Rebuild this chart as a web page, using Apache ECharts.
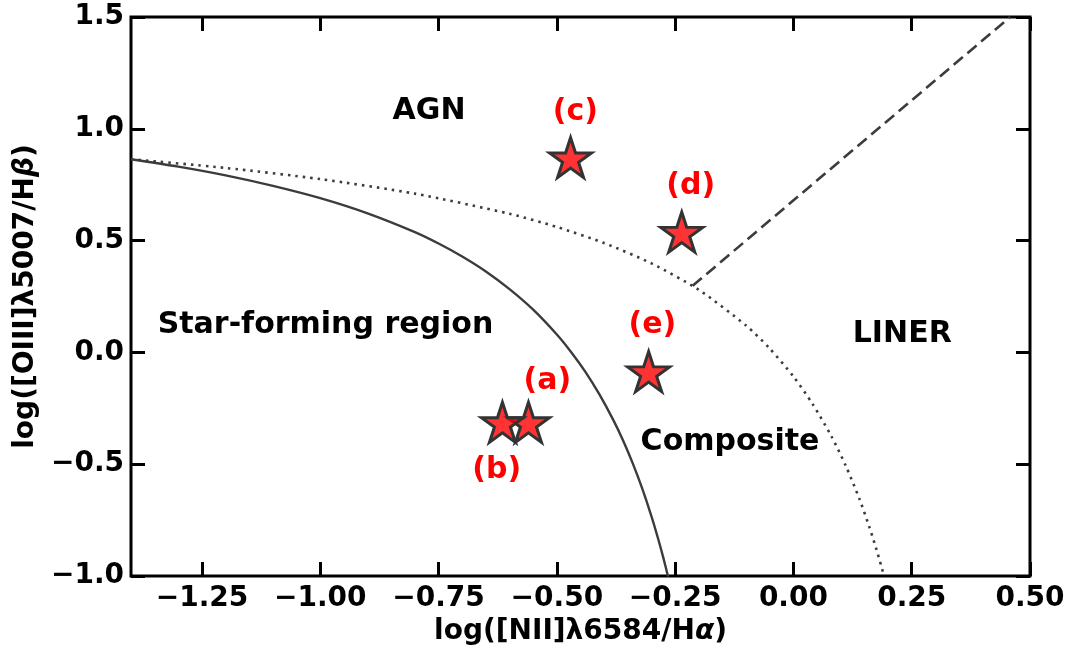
<!DOCTYPE html>
<html>
<head>
<meta charset="utf-8">
<script src="https://cdn.jsdelivr.net/npm/echarts@6/dist/echarts.min.js"></script>
<style>
  html, body { margin: 0; padding: 0; background: #fff; }
  #chart { width: 1073px; height: 651px; }
</style>
</head>
<body>
<div id="chart"></div>
<script>
// tick labels
var xTicks = [-1.25, -1.0, -0.75, -0.5, -0.25, 0.0, 0.25, 0.5];
var yTicks = [-1.0, -0.5, 0.0, 0.5, 1.0, 1.5];

// star points (a)..(e)
var ptName = ['a', 'b', 'c', 'd', 'e'];
var ptX = [-0.560, -0.615, -0.471, -0.236, -0.306];
var ptY = [-0.313, -0.313, 0.871, 0.538, -0.086];

// solid dividing curve
var solidX = [-1.40, -1.30, -1.20, -1.10, -1.00, -0.90, -0.80, -0.75, -0.70, -0.65, -0.60, -0.55,
  -0.50, -0.47, -0.44, -0.41, -0.38, -0.36, -0.34, -0.32, -0.30, -0.285, -0.275, -0.265];
var solidY = [0.864, 0.831, 0.792, 0.745, 0.690, 0.622, 0.538, 0.487, 0.429, 0.362, 0.283, 0.191,
  0.080, 0.002, -0.086, -0.188, -0.305, -0.394, -0.494, -0.606, -0.733, -0.840, -0.918, -1.002];

// dotted dividing curve
var dotX = [-1.40, -1.20, -1.00, -0.80, -0.60, -0.50, -0.40, -0.30, -0.20, -0.10, -0.05, 0.00,
  0.04, 0.08, 0.11, 0.14, 0.16, 0.175, 0.186, 0.191];
var dotY = [0.864, 0.825, 0.775, 0.710, 0.620, 0.561, 0.489, 0.398, 0.280, 0.120, 0.017, -0.108,
  -0.229, -0.374, -0.504, -0.658, -0.778, -0.878, -0.958, -0.996];

// dashed line
var dashX = [-0.213, 0.458];
var dashY = [0.298, 1.5];

// text notes
var noteText = ['AGN', 'Star-forming region', 'Composite', 'LINER'];
var noteX = [-0.770, -0.989, -0.134, 0.230];
var noteY = [1.080, 0.122, -0.401, 0.080];

var tagText = ['(a)', '(b)', '(c)', '(d)', '(e)'];
var tagX = [-0.520, -0.627, -0.461, -0.217, -0.298];
var tagY = [-0.128, -0.526, 1.075, 0.744, 0.120];

function zip(xs, ys) {
  return xs.map(function (x, i) { return [x, ys[i]]; });
}
function minus(s) { return s.replace('-', '\u2212'); }

var FONT = 'DejaVu Sans';
var starPath = 'path://M100,0 L122.45,69.1 L195.11,69.1 L136.33,111.8 L158.78,180.9 L100,138.2 L41.22,180.9 L63.67,111.8 L4.89,69.1 L77.55,69.1 Z';

var tickStyle = { show: true, inside: true, length: 14, lineStyle: { color: '#000', width: 3 } };
var titleStyle = {
  fontFamily: FONT, fontWeight: 'bold', fontSize: 28, color: '#000',
  rich: { i: { fontFamily: FONT, fontWeight: 'bold', fontStyle: 'italic', fontSize: 28, color: '#000' } }
};
var tickFont = { fontFamily: FONT, fontWeight: 'bold', fontSize: 28, color: '#000' };

var myChart = echarts.init(document.getElementById('chart'));
var option = {
  backgroundColor: '#fff',
  animation: false,
  grid: {
    left: 131, right: 43, top: 17, bottom: 75,
    show: true, borderColor: '#000', borderWidth: 3, backgroundColor: 'transparent'
  },
  xAxis: [{
    type: 'value', min: -1.4, max: 0.5, position: 'bottom',
    name: 'log([NII]\u03bb6584/H{i|\u03b1})',
    nameLocation: 'middle', nameGap: 42,
    nameTextStyle: titleStyle,
    splitLine: { show: false },
    axisLine: { show: false, onZero: false },
    axisTick: Object.assign({ customValues: xTicks }, tickStyle),
    axisLabel: Object.assign({
      customValues: xTicks, margin: 9,
      formatter: function (v) { return minus(v.toFixed(2)); }
    }, tickFont)
  }, {
    type: 'value', min: -1.4, max: 0.5, position: 'top',
    splitLine: { show: false }, axisLine: { show: false, onZero: false },
    axisTick: Object.assign({ customValues: xTicks }, tickStyle),
    axisLabel: { show: false }
  }],
  yAxis: [{
    type: 'value', min: -1.0, max: 1.5, position: 'left',
    name: 'log([OIII]\u03bb5007/H{i|\u03b2})',
    nameLocation: 'middle', nameGap: 87,
    nameTextStyle: titleStyle,
    splitLine: { show: false },
    axisLine: { show: false, onZero: false },
    axisTick: Object.assign({ customValues: yTicks }, tickStyle),
    axisLabel: Object.assign({
      customValues: yTicks, margin: 7,
      formatter: function (v) { return minus(v.toFixed(1)); }
    }, tickFont)
  }, {
    type: 'value', min: -1.0, max: 1.5, position: 'right',
    splitLine: { show: false }, axisLine: { show: false, onZero: false },
    axisTick: Object.assign({ customValues: yTicks }, tickStyle),
    axisLabel: { show: false }
  }],
  series: [
    {
      type: 'line', data: zip(solidX, solidY), symbol: 'none', smooth: 0.25,
      lineStyle: { color: '#3c3c3c', width: 2.4 }, z: 2
    },
    {
      type: 'line', data: zip(dotX, dotY), symbol: 'none', smooth: 0.25,
      lineStyle: { color: '#3c3c3c', width: 2.6, type: [2.5, 5] }, z: 2
    },
    {
      type: 'line', data: zip(dashX, dashY), symbol: 'none',
      lineStyle: { color: '#3c3c3c', width: 2.6, type: [12, 6] }, z: 2
    },
    {
      type: 'scatter', symbol: starPath, symbolSize: [42, 40],
      data: ptX.map(function (x, i) { return { name: ptName[i], value: [x, ptY[i]] }; }),
      itemStyle: { color: 'rgba(255,0,0,0.8)', borderColor: '#333', borderWidth: 3, opacity: 1 },
      z: 5
    },
    {
      type: 'scatter', symbolSize: 0, silent: true,
      data: noteX.map(function (x, i) { return { name: noteText[i], value: [x, noteY[i]] }; }),
      itemStyle: { opacity: 1 },
      label: {
        show: true, position: 'inside', formatter: '{b}',
        fontFamily: FONT, fontWeight: 'bold', fontSize: 30, color: '#000'
      },
      z: 6
    },
    {
      type: 'scatter', symbolSize: 0, silent: true,
      data: tagX.map(function (x, i) { return { name: tagText[i], value: [x, tagY[i]] }; }),
      itemStyle: { opacity: 1 },
      label: {
        show: true, position: 'inside', formatter: '{b}',
        fontFamily: FONT, fontWeight: 'bold', fontSize: 30, color: '#ff0000'
      },
      z: 6
    }
  ]
};
myChart.setOption(option);
</script>
</body>
</html>
